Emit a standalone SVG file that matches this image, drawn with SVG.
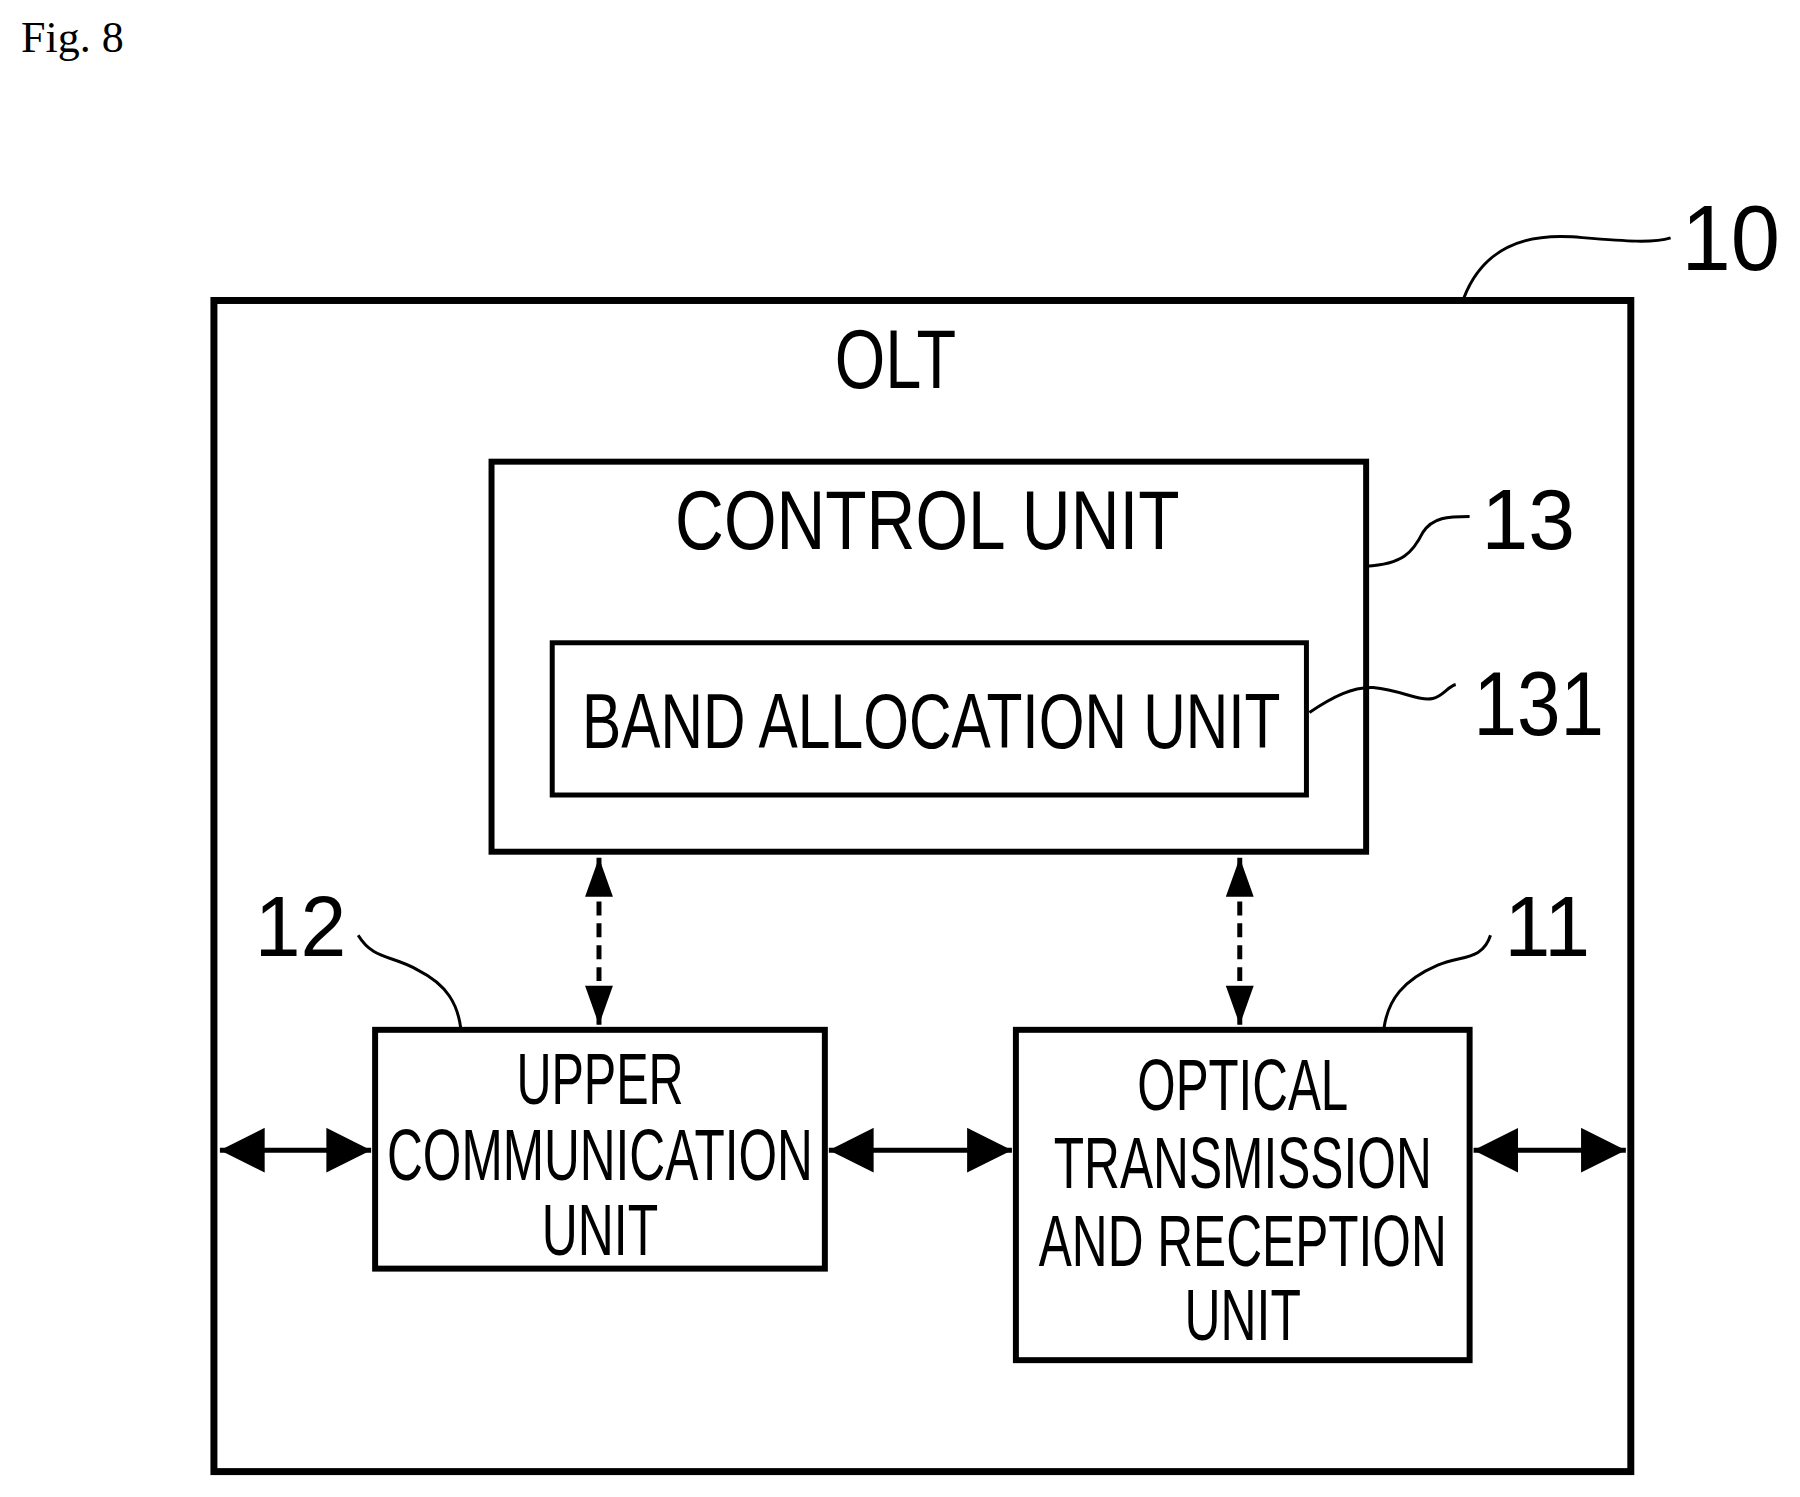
<svg xmlns="http://www.w3.org/2000/svg" width="1800" height="1497" viewBox="0 0 1800 1497">
<style>
.t{font-family:"Liberation Sans",Arial,sans-serif;fill:#000}
.s{font-size:72px}
.box{fill:none;stroke:#000}
.lead{fill:none;stroke:#000;stroke-width:3}
.ln{stroke:#000;stroke-width:5;fill:none}
</style>
<defs>
<marker id="hh" viewBox="0 0 10 10" refX="10" refY="5" markerWidth="9" markerHeight="9" orient="auto-start-reverse">
<path d="M0,0 L10,5 L0,10 z" fill="#000"/>
</marker>
<marker id="vh" viewBox="0 0 14 10" refX="14" refY="5" markerWidth="12" markerHeight="5.6" orient="auto-start-reverse">
<path d="M0,0 L14,5 L0,10 z" fill="#000"/>
</marker>
</defs>
<rect width="1800" height="1497" fill="#fff"/>
<text x="21" y="52" style="font-family:'Liberation Serif',serif" font-size="44">Fig. 8</text>
<g transform="scale(0.995)">
<g id="olt">
<rect class="box" x="215" y="302" width="1424" height="1177" stroke-width="7"/>
<text class="t" x="900" y="390" font-size="84" text-anchor="middle" textLength="122" lengthAdjust="spacingAndGlyphs">OLT</text>
<path class="lead" d="M1471,300 C1490,250 1530,235 1580,238 C1630,242 1660,245 1679,239"/>
<text class="t" x="1690" y="271" font-size="94" textLength="99" lengthAdjust="spacingAndGlyphs">10</text>
</g>
<g id="control">
<rect class="box" x="494" y="464" width="879" height="392" stroke-width="6"/>
<text class="t" x="932" y="552" font-size="84" text-anchor="middle" textLength="507" lengthAdjust="spacingAndGlyphs">CONTROL UNIT</text>
<path class="lead" d="M1373,569 C1410,567 1420,555 1430,535 C1440,520 1455,519 1477,519"/>
<text class="t" x="1489" y="552" font-size="86" textLength="94" lengthAdjust="spacingAndGlyphs">13</text>
</g>
<g id="band">
<rect class="box" x="555" y="646" width="758" height="153" stroke-width="5"/>
<text class="t" x="936" y="752" font-size="78" text-anchor="middle" textLength="702" lengthAdjust="spacingAndGlyphs">BAND ALLOCATION UNIT</text>
<path class="lead" d="M1316,716 C1340,700 1360,690 1380,691 C1410,694 1425,705 1440,702 C1450,700 1455,690 1463,688"/>
<text class="t" x="1481" y="739" font-size="92" textLength="131" lengthAdjust="spacingAndGlyphs">131</text>
</g>
<g id="upper">
<rect class="box" x="377" y="1035" width="452" height="240" stroke-width="6"/>
<text class="t s" x="603" y="1110" text-anchor="middle" textLength="168" lengthAdjust="spacingAndGlyphs">UPPER</text>
<text class="t s" x="603" y="1186" text-anchor="middle" textLength="428" lengthAdjust="spacingAndGlyphs">COMMUNICATION</text>
<text class="t s" x="603" y="1261" text-anchor="middle" textLength="117" lengthAdjust="spacingAndGlyphs">UNIT</text>
<path class="lead" d="M360,940 C375,965 395,960 420,975 C450,990 460,1010 463,1033"/>
<text class="t" x="256" y="961" font-size="86" textLength="92" lengthAdjust="spacingAndGlyphs">12</text>
</g>
<g id="optical">
<rect class="box" x="1021" y="1035" width="456" height="332" stroke-width="6"/>
<text class="t s" x="1249" y="1116" text-anchor="middle" textLength="212" lengthAdjust="spacingAndGlyphs">OPTICAL</text>
<text class="t s" x="1249" y="1194" text-anchor="middle" textLength="380" lengthAdjust="spacingAndGlyphs">TRANSMISSION</text>
<text class="t s" x="1249" y="1272" text-anchor="middle" textLength="410" lengthAdjust="spacingAndGlyphs">AND RECEPTION</text>
<text class="t s" x="1249" y="1347" text-anchor="middle" textLength="117" lengthAdjust="spacingAndGlyphs">UNIT</text>
<path class="lead" d="M1498,940 C1490,965 1470,960 1445,970 C1410,985 1395,1005 1391,1033"/>
<text class="t" x="1512" y="961" font-size="86" textLength="86" lengthAdjust="spacingAndGlyphs">11</text>
</g>
<g id="connectors">
<line class="ln" x1="602" y1="862" x2="602" y2="1030" stroke-dasharray="14,8" marker-start="url(#vh)" marker-end="url(#vh)"/>
<line class="ln" x1="1246" y1="862" x2="1246" y2="1030" stroke-dasharray="14,8" marker-start="url(#vh)" marker-end="url(#vh)"/>
<line class="ln" x1="221" y1="1156" x2="373" y2="1156" marker-start="url(#hh)" marker-end="url(#hh)"/>
<line class="ln" x1="833" y1="1156" x2="1017" y2="1156" marker-start="url(#hh)" marker-end="url(#hh)"/>
<line class="ln" x1="1481" y1="1156" x2="1634" y2="1156" marker-start="url(#hh)" marker-end="url(#hh)"/>
</g>
</g>
</svg>
